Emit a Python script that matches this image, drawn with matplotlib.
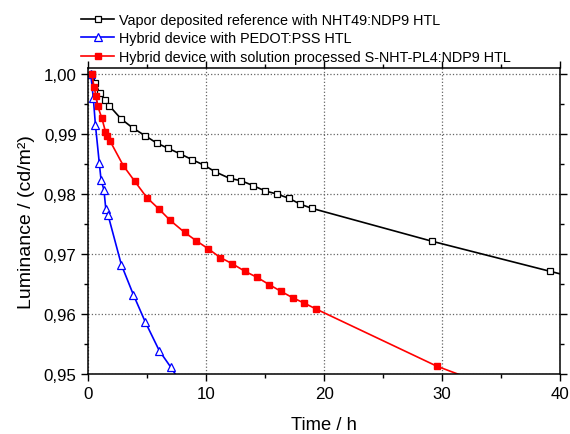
import matplotlib
matplotlib.use('Agg')
import matplotlib.pyplot as plt
from matplotlib.ticker import MultipleLocator, FuncFormatter

plt.rcParams['font.family'] = ['Liberation Sans', 'DejaVu Sans']

# ----------------------------------------------------------------------
# data (time in h, normalised luminance)
# ----------------------------------------------------------------------
t_ref = [0.3, 0.6, 0.95, 1.41, 1.78, 2.78, 3.77, 4.82, 5.78, 6.77, 7.77, 8.82,
         9.81, 10.75, 11.98, 12.97, 13.96, 15.0, 15.97, 16.99, 17.97, 18.96,
         29.18, 39.17, 49.2]
L_ref = [1.0, 0.9985, 0.9968, 0.9957, 0.9947, 0.9925, 0.9910, 0.9897, 0.9885,
         0.9876, 0.9867, 0.9857, 0.9848, 0.9837, 0.9826, 0.9822, 0.9814, 0.9805,
         0.9800, 0.9793, 0.9783, 0.9776, 0.9721, 0.9671, 0.9621]

t_pedot = [0.2, 0.42, 0.6, 0.93, 1.08, 1.32, 1.48, 1.67, 2.80, 3.82, 4.82,
           6.01, 7.0, 8.0]
L_pedot = [1.0, 0.9960, 0.9915, 0.9851, 0.9823, 0.9807, 0.9775, 0.9765,
           0.9682, 0.9632, 0.9587, 0.9539, 0.9511, 0.9481]

t_sol = [0.29, 0.48, 0.65, 0.80, 1.15, 1.45, 1.61, 1.82, 2.97, 3.94, 4.96,
         5.98, 6.94, 8.16, 9.15, 10.14, 11.19, 12.18, 13.29, 14.31, 15.33,
         16.31, 17.33, 18.32, 19.34, 29.55, 39.6]
L_sol = [1.000, 0.9979, 0.9963, 0.9946, 0.9926, 0.9904, 0.9897, 0.9889,
         0.9847, 0.9821, 0.9794, 0.9775, 0.9756, 0.9736, 0.9722, 0.9709,
         0.9694, 0.9684, 0.9671, 0.9661, 0.9649, 0.9638, 0.9627, 0.9618,
         0.9608, 0.9513, 0.9439]

labels = ['Vapor deposited reference with NHT49:NDP9 HTL',
          'Hybrid device with PEDOT:PSS HTL',
          'Hybrid device with solution processed S-NHT-PL4:NDP9 HTL']

fig = plt.figure(figsize=(5.7, 4.35), dpi=100)
ax = fig.add_axes([0.155, 0.138, 0.8275, 0.7035])

ax.plot(t_ref, L_ref, '-', color='black', lw=1.2, marker='s', ms=4.2,
        mfc='white', mec='black', mew=0.9, label=labels[0])
ax.plot(t_pedot, L_pedot, '-', color='#0000ff', lw=1.2, marker='^', ms=5.5,
        mfc='white', mec='#0000ff', mew=0.9, label=labels[1])
ax.plot(t_sol, L_sol, '-', color='#ff0000', lw=1.2, marker='s', ms=4.8,
        mfc='#ff0000', mec='#ff0000', label=labels[2])

ax.set_xlim(0, 40)
ax.set_ylim(0.95, 1.001)
ax.xaxis.set_major_locator(MultipleLocator(10))
ax.xaxis.set_minor_locator(MultipleLocator(5))
ax.yaxis.set_major_locator(MultipleLocator(0.01))
ax.yaxis.set_minor_locator(MultipleLocator(0.005))
ax.yaxis.set_major_formatter(FuncFormatter(lambda v, p: f'{v:.2f}'.replace('.', ',')))

ax.grid(True, which='major', linestyle=':', color='#666666', lw=0.9)
ax.tick_params(which='both', direction='out', labelsize=12.2, width=1)
ax.tick_params(which='major', length=5)
ax.tick_params(which='minor', length=3)
ax.tick_params(which='both', top=True, right=True)
for s in ax.spines.values():
    s.set_linewidth(1.1)

ax.set_xlabel('Time / h', fontsize=13.2, labelpad=11)
ax.set_ylabel('Luminance / (cd/m²)', fontsize=14, labelpad=6)

fig.legend(loc='upper left', bbox_to_anchor=(0.118, 1.0), frameon=False,
           fontsize=10.4, handlelength=2.3, handletextpad=0.35,
           labelspacing=0.32, borderpad=0.45)

fig.savefig('out.png', dpi=100)
